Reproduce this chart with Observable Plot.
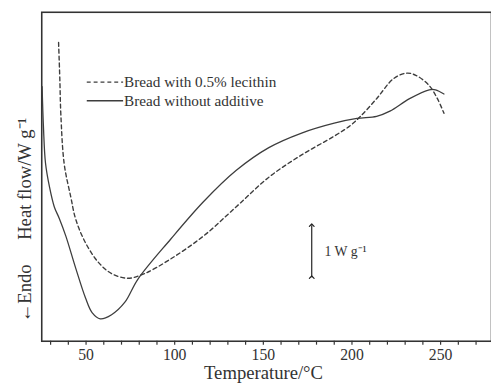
<!DOCTYPE html>
<html>
<head>
<meta charset="utf-8">
<script src="https://cdn.jsdelivr.net/npm/d3@7"></script>
<script src="https://cdn.jsdelivr.net/npm/@observablehq/plot@0.6"></script>
<style>
  html, body { margin: 0; padding: 0; background: #fff; overflow: hidden; }
  #chart { width: 491px; height: 391px; overflow: hidden; }
</style>
</head>
<body>
<div id="chart"></div>
<script>
// Temperature (°C) and heat flow (W/g, arbitrary offset)
const plainT = [25.2, 26.0, 27.1, 29.4, 32.1, 34.9, 38.6, 44.2, 49.7, 53.4, 58.0, 64.4, 71.9, 79.2, 97.7, 116.2, 134.6, 153.1, 171.6, 190.0, 202.8, 213.9, 221.4, 232.5, 243.6, 247.1, 251.9];
const plainHF = [4.89, 4.09, 3.43, 2.96, 2.58, 2.36, 2.02, 1.40, 0.83, 0.55, 0.43, 0.51, 0.75, 1.19, 1.96, 2.68, 3.28, 3.72, 4.00, 4.19, 4.28, 4.32, 4.42, 4.66, 4.83, 4.83, 4.75];

const lecT = [34.5, 35.2, 35.8, 37.7, 41.4, 44.2, 49.7, 57.1, 64.4, 73.7, 83.0, 97.7, 116.2, 134.6, 153.1, 171.6, 190.0, 199.3, 204.8, 213.9, 223.3, 230.5, 236.0, 243.6, 248.2, 251.9];
const lecHF = [5.74, 5.04, 4.34, 3.40, 2.77, 2.34, 1.89, 1.51, 1.30, 1.21, 1.30, 1.58, 2.02, 2.58, 3.15, 3.58, 3.94, 4.15, 4.32, 4.66, 5.04, 5.15, 5.11, 4.91, 4.66, 4.38];

const seriesNames = ["Bread with 0.5% lecithin", "Bread without additive"];
const xTicks = d3.range(30, 280, 10);
const xLabels = [50, 100, 150, 200, 250];
const xDomain = [25, 278.7];
const yDomain = [0, 6.32];
const scaleBar = {x: 177.3, y1: 1.23, y2: 2.23, label: "1 W g\u207B\u00B9"};
const yLabel = "Heat flow/W g\u207B\u00B9";
const endoLabel = "\u2190Endo";
const xLabel = "Temperature/\u00B0C";

const plain = plainT.map((t, i) => ({t, hf: plainHF[i]}));
const lec = lecT.map((t, i) => ({t, hf: lecHF[i]}));

const ink = "#333";
const lineInk = "#3d3d3d";
const font = "'Liberation Serif', 'Times New Roman', serif";

const legendDashed = [{x1: 50.4, x2: 70.9, y: 4.98, name: seriesNames[0]}];
const legendSolid = [{x1: 50.4, x2: 70.9, y: 4.62, name: seriesNames[1]}];

const chart = Plot.plot({
  width: 500,
  height: 391,
  marginLeft: 42,
  marginRight: 0,
  marginTop: 12,
  marginBottom: 44,
  style: {fontFamily: font, color: ink, background: "#fff", overflow: "visible"},
  x: {domain: xDomain},
  y: {domain: yDomain},
  marks: [
    Plot.frame({stroke: ink, strokeWidth: 1.6}),
    // x axis ticks and labels
    Plot.axisX(xTicks, {tickSize: 4, text: null, stroke: ink, strokeWidth: 1.2, label: null}),
    Plot.axisX(xLabels, {tickSize: 0, tickPadding: 8, fontSize: 16, fill: ink, label: null}),
    Plot.axisY([], {label: null}),
    // curves
    Plot.line(lec, {x: "t", y: "hf", curve: "catmull-rom", stroke: lineInk, strokeWidth: 1.4, strokeDasharray: "4,3"}),
    Plot.line(plain, {x: "t", y: "hf", curve: "catmull-rom", stroke: lineInk, strokeWidth: 1.3}),
    // legend
    Plot.link(legendDashed, {x1: "x1", x2: "x2", y1: "y", y2: "y", stroke: lineInk, strokeWidth: 1.3, strokeDasharray: "4,3"}),
    Plot.link(legendSolid, {x1: "x1", x2: "x2", y1: "y", y2: "y", stroke: lineInk, strokeWidth: 1.3}),
    Plot.text(legendDashed.concat(legendSolid), {x: "x2", y: "y", text: "name", textAnchor: "start", dx: 1, fontSize: 15.5, fill: ink}),
    // scale bar
    Plot.link([scaleBar], {x1: "x", x2: "x", y1: "y1", y2: "y2", stroke: "#222", strokeWidth: 1.2, markerStart: "arrow", markerEnd: "arrow"}),
    Plot.text([scaleBar], {x: "x", y: d => (d.y1 + d.y2) / 2, text: "label", textAnchor: "start", dx: 13, fontSize: 14, fill: ink}),
    // y axis label parts
    Plot.text([yLabel], {frameAnchor: "left", y: [3.12], dx: -17, rotate: -90, textAnchor: "middle", fontSize: 19, fill: ink, text: d => d}),
    Plot.text([endoLabel], {frameAnchor: "left", y: [0.92], dx: -17, rotate: -90, textAnchor: "middle", fontSize: 19, fill: ink, text: d => d}),
    // x axis label
    Plot.text([xLabel], {x: [150.1], frameAnchor: "bottom", dy: 38, fontSize: 19, fill: ink, text: d => d})
  ]
});
document.getElementById("chart").appendChild(chart);
</script>
</body>
</html>
